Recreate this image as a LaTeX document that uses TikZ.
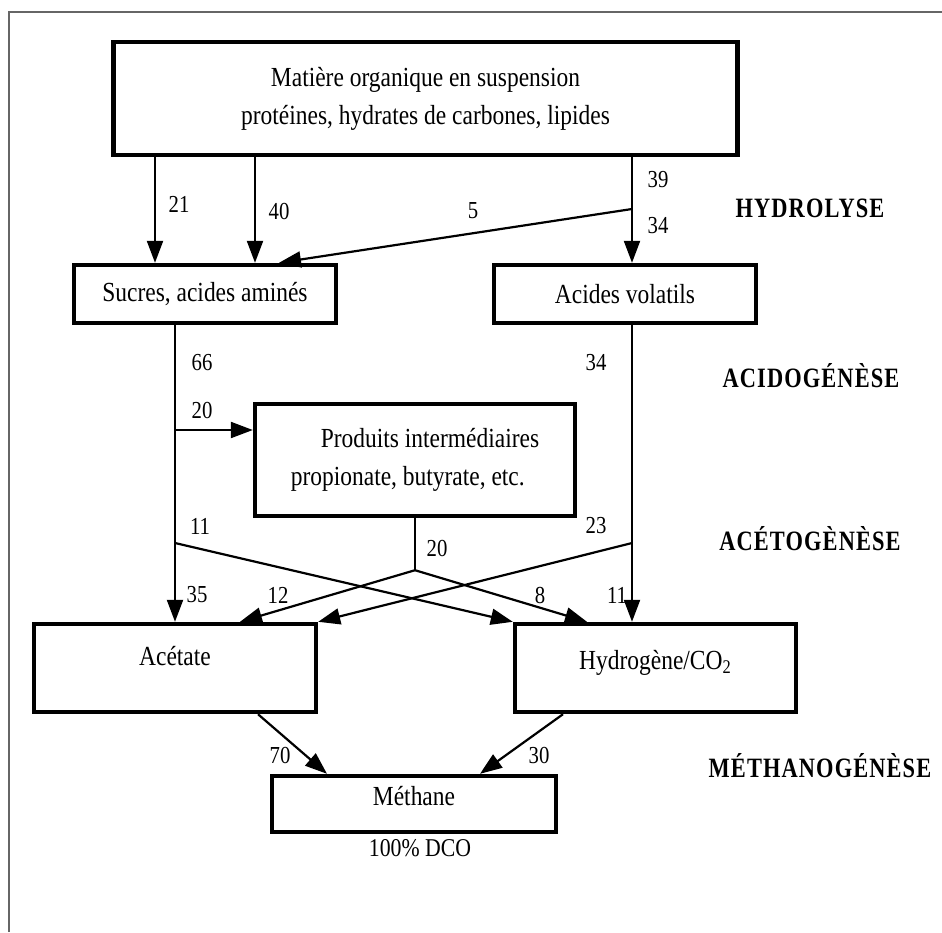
\documentclass[tikz,border=0pt]{standalone}
\usepackage{fontspec}
\setmainfont{Liberation Serif}[FakeStretch=0.85]
\newfontfamily\stagefont{Liberation Serif}[FakeStretch=0.8,LetterSpace=4]
\usepackage{tikz}
\usetikzlibrary{calc,arrows.meta}
\tikzset{>={Triangle[length=11pt,width=8pt]}}
\tikzset{box/.style={draw,line width=2.2pt,inner sep=2pt,align=center,font=\fontsize{13.8}{19}\selectfont},
  flow/.style={->,line width=1.1pt},
  num/.style={inner sep=0pt,font=\fontsize{12.2}{13}\selectfont},
  stage/.style={inner sep=0pt,font={\stagefont\bfseries\fontsize{14}{15}\selectfont}}}

\begin{document}
\begin{tikzpicture}[x=0.5pt,y=-0.5pt]
      \useasboundingbox (0,0) rectangle (942,932);
      \draw[black!60,line width=0.8pt] (9,932) -- (9,12) -- (942,12);
      % boxes
      \node[box,minimum width=312pt,minimum height=56.5pt] (mat) at (425.5,98.5) {Matière organique en suspension\\protéines, hydrates de carbones, lipides};
      \node[box,minimum width=131pt,minimum height=29pt] (sucres) at (205,294) {Sucres, acides aminés};
      \node[box,minimum width=131pt,minimum height=29pt] (acides) at (625,294) {Acides volatils};
      \node[box,minimum width=160pt,minimum height=56pt,align=left] (prod) at (415,460) {\hspace*{15pt}Produits intermédiaires\\propionate, butyrate, etc.};
      \node[box,minimum width=141pt,minimum height=44pt,text depth=12pt] (acetate) at (175,668) {Acétate};
      \node[box,minimum width=140.5pt,minimum height=44pt,text depth=8pt] (hydro) at (655.5,668) {Hydrogène/CO\textsubscript{2}};
      \node[box,minimum width=142pt,minimum height=28pt,text depth=8pt] (methane) at (414,804) {Méthane};
      \node[num,font=\fontsize{12.8}{14}\selectfont] (dco) at (420,848) {100\% DCO};
      % branch points
      \coordinate (xa) at (155,0);
      \coordinate (xb) at (255,0);
      \coordinate (t5) at (279,0);
      \coordinate (s5) at (632,209);
      \coordinate (b20) at (175,430);
      \coordinate (b11) at (175,543);
      \coordinate (b23) at (632,543);
      \coordinate (ap) at ($(prod.south)+(0,52)$);
      \coordinate (t12) at (240,0);
      \coordinate (t8) at (587,0);
      \coordinate (m70) at (258,0);
      \coordinate (n70) at (327,0);
      \coordinate (m30) at (563,0);
      \coordinate (n30) at (480,0);
      % hydrolyse
      \draw[flow] (mat.south -| xa) -- (sucres.north -| xa);
      \draw[flow] (mat.south -| xb) -- (sucres.north -| xb);
      \draw[line width=1.1pt] (mat.south -| s5) -- (s5);
      \draw[flow] (s5) -- (acides.north -| s5);
      \draw[flow] (s5) -- (sucres.north -| t5);
      % acidogenese, acetogenese
      \draw[flow] (sucres.south -| b20) -- (acetate.north -| b20);
      \draw[flow] (b20) -- (b20 -| prod.west);
      \draw[flow] (acides.south -| b23) -- (hydro.north -| b23);
      \draw[flow] (b11) -- (hydro.north west);
      \draw[flow] (b23) -- (acetate.north east);
      \draw[line width=1.1pt] (prod.south) -- (ap);
      \draw[flow] (ap) -- (acetate.north -| t12);
      \draw[flow] (ap) -- (hydro.north -| t8);
      % methanogenese
      \draw[flow] (acetate.south -| m70) -- (methane.north -| n70);
      \draw[flow] (hydro.south -| m30) -- (methane.north -| n30);
      % values
      \node[num] (n21) at (179,204) {21};
      \node[num] (n40) at (279,211) {40};
      \node[num] (n5) at (473,211) {5};
      \node[num] (n39) at (658,180) {39};
      \node[num] (n34) at (658,226) {34};
      \node[num] (n66) at (202,363) {66};
      \node[num] (n34b) at (596,363) {34};
      \node[num] (n20) at (202,410) {20};
      \node[num] (n11) at (200,526) {11};
      \node[num] (n23) at (596,526) {23};
      \node[num] (n20b) at (437,548) {20};
      \node[num] (n35) at (197,595) {35};
      \node[num] (n12) at (278,595) {12};
      \node[num] (n8) at (540,595) {8};
      \node[num] (n11b) at (617,595) {11};
      \node[num] (n70) at (280,755) {70};
      \node[num] (n30) at (539,755) {30};
      % stages
      \node[stage] (hyd) at (810,208) {HYDROLYSE};
      \node[stage] (acid) at (811,376) {ACIDOGÉNÈSE};
      \node[stage] (acet) at (810,539) {ACÉTOGÈNÈSE};
      \node[stage] (meth) at (820,766) {MÉTHANOGÉNÈSE};
    \end{tikzpicture}
\end{document}
